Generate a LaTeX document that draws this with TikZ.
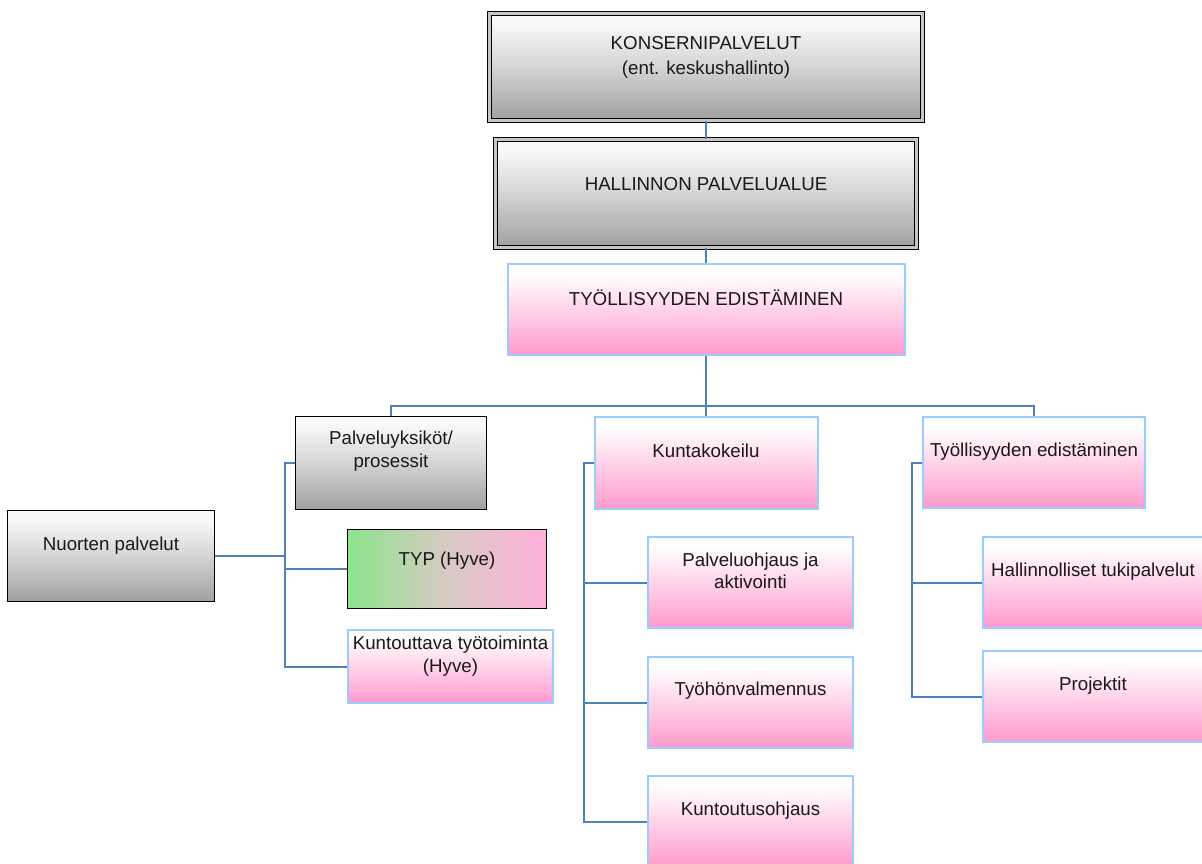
\documentclass[tikz,border=0pt]{standalone}
\usepackage{fontspec}
\setmainfont{Liberation Sans}

\definecolor{lineblue}{RGB}{79,129,189}
\definecolor{edgeblue}{RGB}{153,204,255}
\definecolor{pinkB}{RGB}{255,153,204}
\definecolor{pinkM}{RGB}{255,188,222}
\definecolor{pinkT}{RGB}{255,222,238}
\definecolor{grayB}{RGB}{160,160,160}
\definecolor{grayM}{RGB}{212,212,212}
\definecolor{grayT}{RGB}{248,248,248}
\definecolor{typgreen}{RGB}{140,228,140}
\definecolor{typmid}{RGB}{215,202,195}
\definecolor{typpink}{RGB}{255,176,220}

\pgfdeclareverticalshading{pinkfade}{100bp}{color(0bp)=(pinkB); color(25bp)=(pinkB); color(40bp)=(pinkM); color(55bp)=(pinkT); color(70bp)=(white); color(100bp)=(white)}
\pgfdeclareverticalshading{grayfade}{100bp}{color(0bp)=(grayB); color(25bp)=(grayB); color(50bp)=(grayM); color(70bp)=(grayT); color(100bp)=(grayT)}

\tikzset{
    pinkbox/.style={draw=edgeblue, line width=2pt, shade, shading=pinkfade},
    graybox/.style={draw=black, line width=1.5pt, shade, shading=grayfade},
    dblbox/.style={draw=black, line width=1.5pt, double=gray!45, double distance=2.2pt, shade, shading=grayfade},
    typbox/.style={draw=black, line width=1.5pt, left color=typgreen, right color=typpink, middle color=typmid},
    conn/.style={draw=lineblue, line width=2pt},
    boxtext/.style={font=\fontsize{18.7}{22.5}\selectfont, align=center, inner sep=0pt, text=black!90}
}

% text sits in the upper part of each box
\newcommand{\BoxText}[3][35]{
    \node[boxtext] (#2text) at ([yshift=-#1pt]#2.north) {#3};
}

\begin{document}
\begin{tikzpicture}[x=1pt, y=-1pt]
    \fill[white] (0,0) rectangle (1202,864);
    \useasboundingbox (0,0) rectangle (1202,864);

    % top chain
    \node[dblbox, minimum width=433pt, minimum height=107pt] (konserni) at (706,67) {};
    \node[dblbox, minimum width=421pt, minimum height=108pt] (hallinto) at (706,193.5) {};
    \node[pinkbox, minimum width=397pt, minimum height=91pt] (tyollisyys) at (706,309.5) {};

    % second row
    \node[graybox, minimum width=191pt, minimum height=93pt] (yksikot) at (391,463) {};
    \node[pinkbox, minimum width=223pt, minimum height=92pt] (kunta) at (706,463) {};
    \node[pinkbox, minimum width=222pt, minimum height=91pt] (tyoedist) at (1034,462.5) {};

    % left branch
    \node[graybox, minimum width=207pt, minimum height=91pt] (nuoret) at (111,556) {};
    \node[typbox, minimum width=199pt, minimum height=79pt] (typ) at (447,569) {};
    \node[pinkbox, minimum width=205pt, minimum height=73pt] (kuntouttava) at (450.5,666.5) {};

    % middle branch
    \node[pinkbox, minimum width=205pt, minimum height=91pt] (ohjaus) at (750.5,582.5) {};
    \node[pinkbox, minimum width=205pt, minimum height=91pt] (valmennus) at (750.5,702.5) {};
    \node[pinkbox, minimum width=205pt, minimum height=91pt] (kuntoutus) at (750.5,821.5) {};

    % right branch
    \node[pinkbox, minimum width=220pt, minimum height=91pt] (tuki) at (1093,582.5) {};
    \node[pinkbox, minimum width=220pt, minimum height=91pt] (projektit) at (1093,696.5) {};

    \BoxText[44.5]{konserni}{KONSERNIPALVELUT\\[2pt](ent. keskushallinto)}
    \BoxText[45]{hallinto}{HALLINNON PALVELUALUE}
    \BoxText{tyollisyys}{TYÖLLISYYDEN EDISTÄMINEN}
    \BoxText[35.5]{yksikot}{Palveluyksiköt/\\prosessit}
    \BoxText{kunta}{Kuntakokeilu}
    \BoxText[36]{tyoedist}{Työllisyyden edistäminen}
    \BoxText[36]{nuoret}{Nuorten palvelut}
    \BoxText[32]{typ}{TYP (Hyve)}
    \BoxText[27]{kuntouttava}{Kuntouttava työtoiminta\\(Hyve)}
    \BoxText{ohjaus}{Palveluohjaus ja\\aktivointi}
    \BoxText{valmennus}{Työhönvalmennus}
    \BoxText[36]{kuntoutus}{Kuntoutusohjaus}
    \BoxText[36]{tuki}{Hallinnolliset tukipalvelut}
    \BoxText[36]{projektit}{Projektit}

    % connectors
    \coordinate (bus) at (706,406);
    \coordinate (yleft) at (285,463);
    \coordinate (kleft) at (584,463);
    \coordinate (tleft) at (912,462.5);

    \draw[conn] (konserni.south) -- (hallinto.north);
    \draw[conn] (hallinto.south) -- (tyollisyys.north);
    \draw[conn] (tyollisyys.south) -- (bus);
    \draw[conn] (yksikot.north) |- (bus) -| (tyoedist.north);
    \draw[conn] (bus) -- (kunta.north);

    \draw[conn] (yksikot.west) -- (yleft) |- (kuntouttava.west);
    \draw[conn] (typ.west) -- (typ.west -| yleft);
    \draw[conn] (nuoret.east) -- (nuoret.east -| yleft);

    \draw[conn] (kunta.west) -- (kleft) |- (kuntoutus.west);
    \draw[conn] (ohjaus.west) -- (ohjaus.west -| kleft);
    \draw[conn] (valmennus.west) -- (valmennus.west -| kleft);

    \draw[conn] (tyoedist.west) -- (tleft) |- (projektit.west);
    \draw[conn] (tuki.west) -- (tuki.west -| tleft);
\end{tikzpicture}
\end{document}
